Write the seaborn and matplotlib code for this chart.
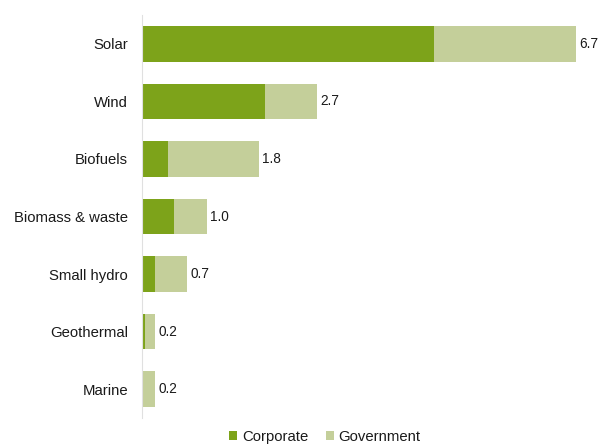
import matplotlib
matplotlib.use("Agg")
import matplotlib.pyplot as plt
import seaborn as sns
import pandas as pd
from matplotlib.patches import Patch

# Renewable energy investment by technology, split by source
categories = ["Solar", "Wind", "Biofuels", "Biomass & waste",
              "Small hydro", "Geothermal", "Marine"]
corporate = [4.5, 1.9, 0.4, 0.5, 0.2, 0.05, 0.02]
government = [2.2, 0.8, 1.4, 0.5, 0.5, 0.15, 0.18]
total_labels = ["6.7", "2.7", "1.8", "1.0", "0.7", "0.2", "0.2"]

df = pd.DataFrame({"category": categories,
                   "corporate": corporate,
                   "government": government})
df["total"] = df["corporate"] + df["government"]

sns.set_theme(style="white")
plt.rcParams["font.family"] = ["Liberation Sans", "DejaVu Sans"]

dark_green = "#7da31a"
light_green = "#c4cf9a"

fig = plt.figure(figsize=(5.98, 4.45), dpi=100)
ax = fig.add_axes([142 / 598, 1 - 418 / 445, (598 - 142) / 598, (418 - 15) / 445])

# Stacked bars: full total in light green, corporate share overlaid in dark green
sns.barplot(data=df, x="total", y="category", orient="h", color=light_green,
            width=0.62, saturation=1, linewidth=0, ax=ax)
sns.barplot(data=df, x="corporate", y="category", orient="h", color=dark_green,
            width=0.62, saturation=1, linewidth=0, ax=ax)

for i, (val, lab) in enumerate(zip(df["total"], total_labels)):
    ax.annotate(lab, xy=(val, i), xytext=(2.5, 0), textcoords="offset points",
                ha="left", va="center", fontsize=9.8, color="#1a1a1a")

ax.set_xlim(0, (598 - 142) / 64.8)
ax.set_ylim(6.5, -0.5)
ax.set_xlabel("")
ax.set_ylabel("")
ax.set_xticks([])
ax.tick_params(axis="y", length=0, pad=10, labelsize=10.7, labelcolor="#1a1a1a")
for side in ["top", "right", "bottom"]:
    ax.spines[side].set_visible(False)
ax.spines["left"].set_color("#e0e0e0")
ax.spines["left"].set_linewidth(0.8)

handles = [Patch(facecolor=dark_green, edgecolor="none", label="Corporate"),
           Patch(facecolor=light_green, edgecolor="none", label="Government")]
fig.legend(handles=handles, loc="center", bbox_to_anchor=(325 / 598, 1 - 437 / 445),
           ncol=2, frameon=False, fontsize=10.7, handlelength=0.55,
           handleheight=0.55, handletextpad=0.3, columnspacing=1.2,
           labelcolor="#1a1a1a")

fig.savefig("out.png", dpi=100, facecolor="white")
